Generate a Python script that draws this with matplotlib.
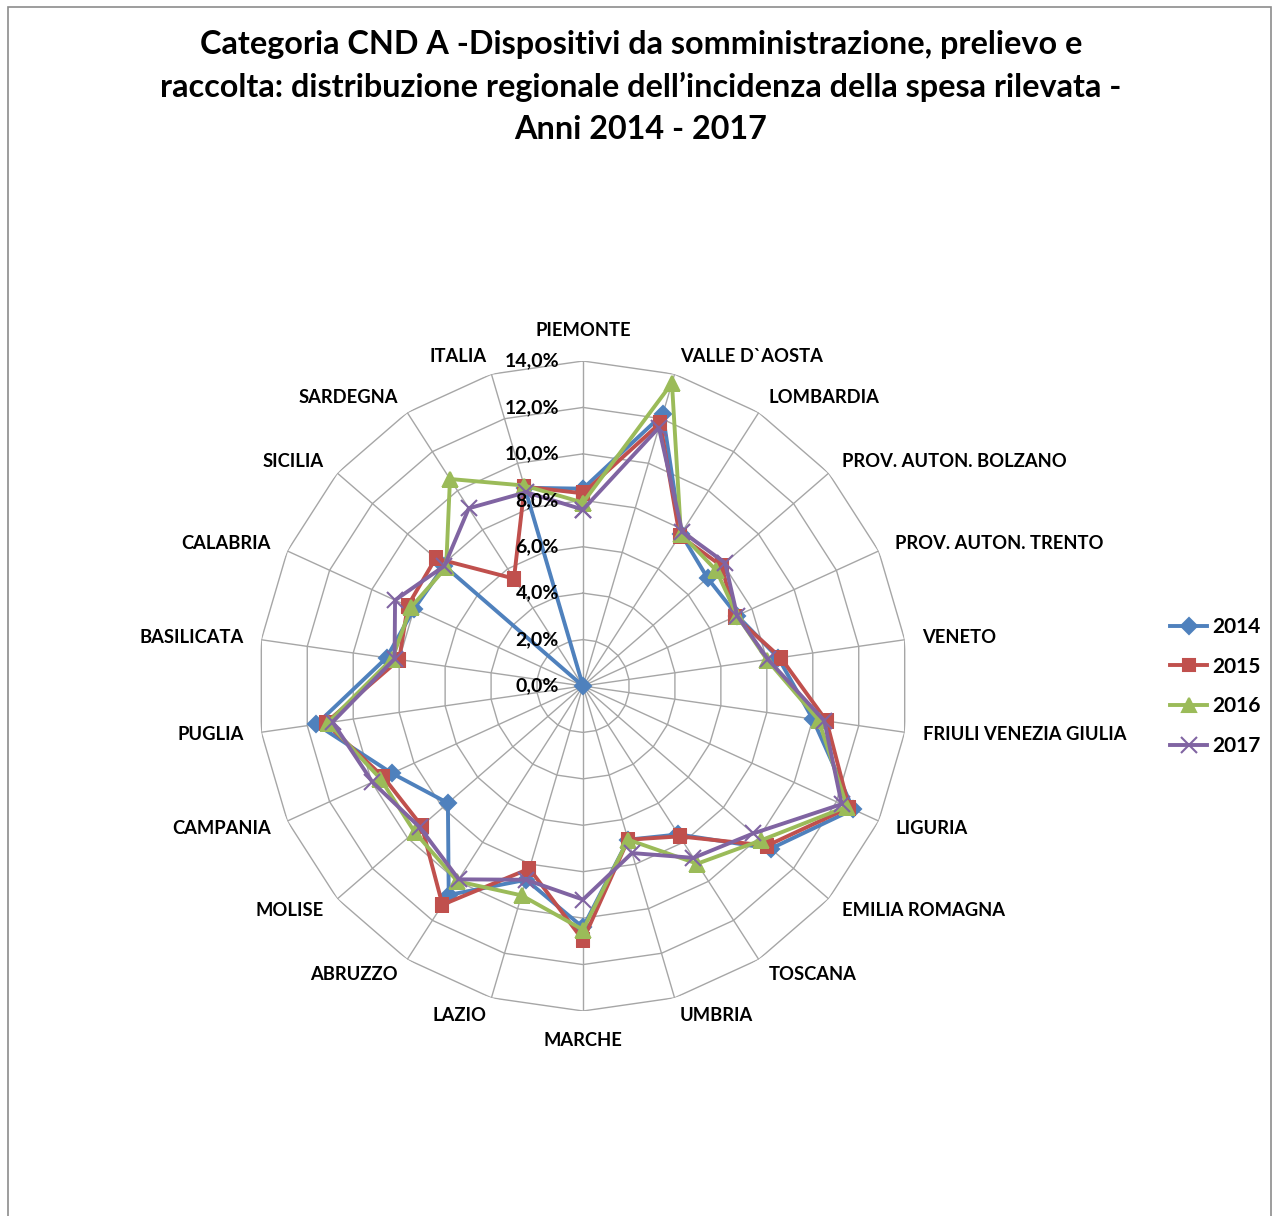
import matplotlib.pyplot as plt
import numpy as np
from matplotlib.patches import Rectangle

REGIONS = [
    "PIEMONTE", "VALLE D`AOSTA", "LOMBARDIA", "PROV. AUTON. BOLZANO",
    "PROV. AUTON. TRENTO", "VENETO", "FRIULI VENEZIA GIULIA", "LIGURIA",
    "EMILIA ROMAGNA", "TOSCANA", "UMBRIA", "MARCHE", "LAZIO", "ABRUZZO",
    "MOLISE", "CAMPANIA", "PUGLIA", "BASILICATA", "CALABRIA", "SICILIA",
    "SARDEGNA", "ITALIA",
]
YEARS = ["2014", "2015", "2016", "2017"]

# incidence of spending, percent
V2014 = [8.5, 12.2, 7.8, 7.1, 7.3, 8.5, 10.0, 12.8, 10.7, 7.6, 6.9,
         10.4, 8.7, 10.7, 7.7, 9.05, 11.6, 8.55, 8.0, 7.9, 0.0, 8.9]
V2015 = [8.3, 11.8, 7.7, 7.9, 7.2, 8.6, 10.6, 12.6, 10.5, 7.7, 6.9,
         10.95, 8.2, 11.2, 9.2, 9.45, 11.2, 8.0, 8.3, 8.4, 5.5, 8.95]
V2016 = [7.9, 13.6, 7.8, 7.6, 7.3, 8.0, 10.25, 12.5, 10.15, 9.1, 6.9,
         10.5, 9.4, 10.0, 9.6, 9.6, 11.1, 8.3, 8.15, 7.8, 10.6, 9.0]
V2017 = [7.6, 11.6, 7.9, 8.1, 7.3, 8.05, 10.5, 12.25, 9.7, 8.8, 7.5,
         9.2, 8.7, 9.9, 9.3, 9.97, 10.9, 8.2, 8.9, 7.9, 9.1, 8.7]
RINGS = [0, 2, 4, 6, 8, 10, 12, 14]

COLORS = ["#4F81BD", "#C0504D", "#9BBB59", "#8064A2"]
MARKERS = ["D", "s", "^", "x"]
SIZES = [8, 9, 10, 11]
GRID = "#A6A6A6"
TITLE = ("Categoria CND A -Dispositivi da somministrazione, prelievo e\n"
         "raccolta: distribuzione regionale dell\u2019incidenza della spesa rilevata -\n"
         "Anni 2014 - 2017")


def main() -> None:
    plt.rcParams.update({
        "font.family": ["Lato", "DejaVu Sans"],
        "font.weight": "bold",
    })
    fig = plt.figure(figsize=(12.77, 12.16), dpi=100)
    fig.patches.append(Rectangle(
        (8 / 1277, -0.01), 1263 / 1277, 1.01 - 7 / 1216,
        transform=fig.transFigure, fill=False, edgecolor="#8C8C8C",
        linewidth=1.2,
    ))

    cx, cy, rad = 583 / 1277, 1 - 686 / 1216, 325
    w, h = 2 * rad / 1277, 2 * rad / 1216
    ax = fig.add_axes([cx - w / 2, cy - h / 2, w, h], projection="polar")
    ax.set_theta_offset(np.pi / 2)
    ax.set_theta_direction(-1)
    ax.set_ylim(0, 14)
    ax.grid(False)
    ax.spines["polar"].set_visible(False)
    ax.set_xticks([])
    ax.set_yticks([])
    ax.patch.set_visible(False)

    n = len(REGIONS)
    theta = np.arange(n) * 2 * np.pi / n
    closed = np.append(theta, theta[0])

    for r in RINGS[1:]:
        ax.plot(closed, np.full(n + 1, r), color=GRID, linewidth=1, zorder=1)
    for t in theta:
        ax.plot([t, t], [0, RINGS[-1]], color=GRID, linewidth=1, zorder=1)

    for r in RINGS:
        ax.annotate(f"{r:.1f}%".replace(".", ","), xy=(0, r),
                    xytext=(-24, 0), textcoords="offset pixels",
                    ha="right", va="center", fontsize=14, zorder=5)

    for t, name in zip(theta, REGIONS):
        s, c = np.sin(t), np.cos(t)
        if abs(s) < 0.01:
            off = 30
            ha = "center"
        else:
            off = 18
            ha = "left" if s > 0 else "right"
        ax.annotate(name, xy=(t, RINGS[-1]), xytext=(off * s, off * c),
                    textcoords="offset pixels", ha=ha, va="center",
                    fontsize=13.2)

    for vals, year, color, marker, ms in zip(
            [V2014, V2015, V2016, V2017], YEARS, COLORS, MARKERS, SIZES):
        ax.plot(closed, np.append(vals, vals[0]), color=color, linewidth=2.8,
                marker=marker, markersize=ms, markeredgewidth=1.5,
                markeredgecolor=color, label=year, zorder=3)

    handles, labels = ax.get_legend_handles_labels()
    fig.legend(handles, labels, loc="center left",
               bbox_to_anchor=(1151 / 1277, 1 - 686.5 / 1216),
               frameon=False, fontsize=15, handlelength=1.8,
               handletextpad=0.25, labelspacing=0.95)

    fig.text(641 / 1277, 1 - 87 / 1216, TITLE, ha="center", va="center",
             fontsize=23.3, linespacing=1.52)

    fig.savefig("out.png", dpi=100)
    plt.close(fig)


if __name__ == "__main__":
    main()
